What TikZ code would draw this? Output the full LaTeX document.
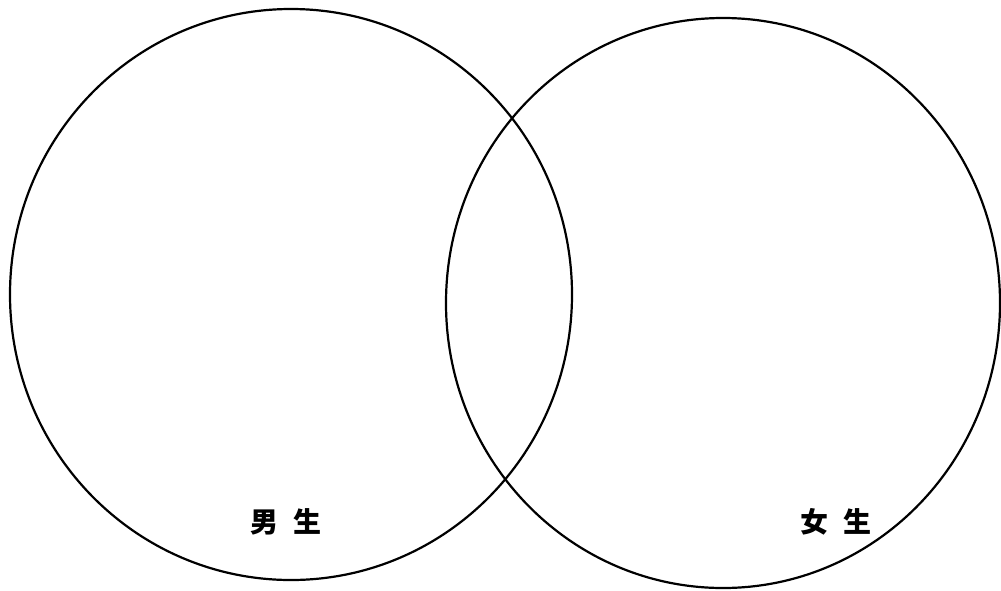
\documentclass[tikz,border=0pt]{standalone}
\usepackage{fontspec}
\newfontfamily\cjk{Noto Sans CJK SC}
\usetikzlibrary{shapes.geometric}
\begin{document}
\begin{tikzpicture}[x=1pt,y=-1pt,
  setring/.style={ellipse,draw=black,line width=2.2pt,inner sep=0pt},
  setlabel/.style={font=\cjk\bfseries\fontsize{28}{28}\selectfont,inner sep=0pt}]
\useasboundingbox (0,0) rectangle (1001,590);
\node[setring,minimum width=562pt,minimum height=571pt] (boys) at (291,294.5) {};
\node[setring,minimum width=554pt,minimum height=570pt] (girls) at (723,303) {};
\node[setlabel] (boyslabel) at (286,522) {男\hspace{16pt}生};
\node[setlabel] (girlslabel) at (836,522) {女\hspace{16pt}生};
\end{tikzpicture}
\end{document}
